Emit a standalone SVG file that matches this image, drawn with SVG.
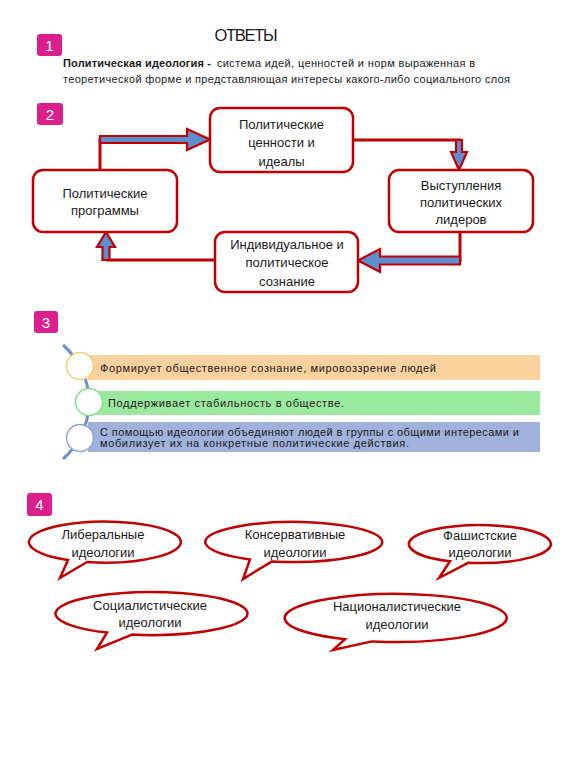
<svg xmlns="http://www.w3.org/2000/svg" width="576" height="768" viewBox="0 0 576 768">
<style>
text{font-family:"Liberation Sans",Arial,sans-serif;fill:#1a1a1a}
.badge{fill:#DB1F8C}
.bn{fill:#fff;font-size:15px;text-anchor:middle}
.box{fill:#fff;stroke:#C00000;stroke-width:2.5}
.bt{font-size:13px;text-anchor:middle}
.ln{fill:none;stroke:#C00000;stroke-width:3}
.arr{fill:#5B8FD0;stroke:#C00000;stroke-width:2.2;stroke-linejoin:miter}
.st{font-size:11px}
.bub{fill:#fff;stroke:#C00000;stroke-width:2.5;stroke-linejoin:miter}
.ct{font-size:13px;text-anchor:middle}
</style>
<rect width="576" height="768" fill="#fff"/>
<text x="246" y="41" font-size="16.5" text-anchor="middle" textLength="63" fill="#000">ОТВЕТЫ</text>

<g id="badge1"><rect class="badge" x="37" y="34" width="25" height="22" rx="3"/><text class="bn" x="49.5" y="51">1</text></g>
<g id="definition">
<text x="63" y="67" font-size="11" font-weight="bold" textLength="148" fill="#000">Политическая  идеология -</text>
<text x="217" y="67" font-size="11" textLength="258">система идей, ценностей и норм выраженная в</text>
<text x="63" y="83" font-size="11" textLength="447">теоретической форме и представляющая интересы какого-либо социального слоя</text>
</g>

<g id="badge2"><rect class="badge" x="37" y="103" width="26" height="22" rx="3"/><text class="bn" x="50" y="120">2</text></g>

<g id="connectors">
<path class="ln" d="M100 170 V138"/>
<polygon class="arr" points="100,136 187,136 187,129 210,139.5 187,150 187,143 100,143"/>
<path class="ln" d="M353 140 H461"/>
<polygon class="arr" points="456,140 462,140 462,152 467,152 459,170 451,152 456,152"/>
<path class="ln" d="M460 232 V262"/>
<polygon class="arr" points="460,256.5 380,256.5 380,249 358,260.5 380,272 380,264.5 460,264.5"/>
<path class="ln" d="M215 260 H106"/>
<polygon class="arr" points="102.5,260 109.5,260 109.5,247 115,247 106,232 97,247 102.5,247"/>
</g>

<g id="values"><rect class="box" x="210" y="108" width="143" height="64" rx="10"/>
<text class="bt" x="281.5" y="129">Политические</text><text class="bt" x="281.5" y="147">ценности и</text><text class="bt" x="281.5" y="166">идеалы</text></g>
<g id="programs"><rect class="box" x="33" y="170" width="144" height="62" rx="10"/>
<text class="bt" x="105" y="198">Политические</text><text class="bt" x="105" y="215">программы</text></g>
<g id="leaders"><rect class="box" x="389" y="170" width="144" height="62" rx="10"/>
<text class="bt" x="461" y="190">Выступления</text><text class="bt" x="461" y="207">политических</text><text class="bt" x="461" y="224">лидеров</text></g>
<g id="consciousness"><rect class="box" x="215" y="232" width="143" height="60" rx="10"/>
<text class="bt" x="287" y="249">Индивидуальное и</text><text class="bt" x="287" y="267">политическое</text><text class="bt" x="287" y="286">сознание</text></g>

<g id="badge3"><rect class="badge" x="34" y="311" width="24" height="22" rx="3"/><text class="bn" x="46" y="328">3</text></g>

<g id="list">
<rect x="88" y="355" width="452" height="25" fill="#FBD19E"/>
<rect x="92" y="391" width="448" height="24" fill="#9BE89F"/>
<rect x="88" y="422" width="452" height="30" fill="#A0B1DC"/>
<path d="M63 345 A75.5 75.5 0 0 1 63 459" fill="none" stroke="#6F8FCB" stroke-width="3"/>
<circle cx="80" cy="366" r="13.5" fill="#fff" stroke="#F6CC6E" stroke-width="1.5"/>
<circle cx="89" cy="402" r="13.5" fill="#fff" stroke="#86DC90" stroke-width="1.5"/>
<circle cx="80" cy="438" r="13.5" fill="#fff" stroke="#8EA4D8" stroke-width="1.5"/>
<text class="st" x="100" y="372" textLength="336">Формирует общественное сознание, мировоззрение людей</text>
<text class="st" x="108" y="407" textLength="236">Поддерживает стабильность в обществе.</text>
<text class="st" x="100" y="436" textLength="419">С помощью идеологии объединяют людей в группы с общими интересами и</text>
<text class="st" x="100" y="447" textLength="309">мобилизует их на конкретные политические действия.</text>
</g>

<g id="badge4"><rect class="badge" x="27" y="493" width="25" height="23" rx="3"/><text class="bn" x="39.5" y="510">4</text></g>

<g id="liberal"><path class="bub" d="M87 562 L60 578 L68 560 A76 20.5 0 1 1 87 562 Z"/>
<text class="ct" x="103" y="539">Либеральные</text><text class="ct" x="103" y="557">идеологии</text></g>
<g id="conservative"><path class="bub" d="M272 561.4 L243 579 L250 559.4 A88.5 20 0 1 1 272 561.4 Z"/>
<text class="ct" x="295" y="539">Консервативные</text><text class="ct" x="295" y="557">идеологии</text></g>
<g id="fascist"><path class="bub" d="M468 562.8 L439 578 L450 561.3 A71 19 0 1 1 468 562.8 Z"/>
<text class="ct" x="480" y="540">Фашистские</text><text class="ct" x="480" y="557">идеологии</text></g>
<g id="socialist"><path class="bub" d="M132 634.6 L97 649 L107 632.6 A96 21.5 0 1 1 132 634.6 Z"/>
<text class="ct" x="150" y="610">Социалистические</text><text class="ct" x="150" y="627">идеологии</text></g>
<g id="nationalist"><path class="bub" d="M372 641.4 L333 650 L345 639.3 A111 24 0 1 1 372 641.4 Z"/>
<text class="ct" x="397" y="611">Националистические</text><text class="ct" x="397" y="629">идеологии</text></g>
</svg>
